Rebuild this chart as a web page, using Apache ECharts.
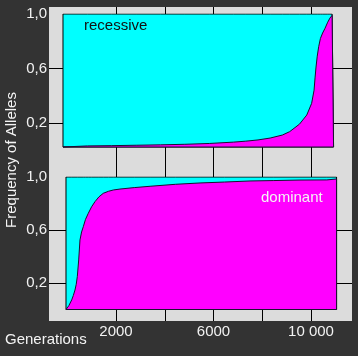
<!DOCTYPE html>
<html>
<head>
<meta charset="utf-8">
<script src="https://cdn.jsdelivr.net/npm/echarts@6/dist/echarts.min.js"></script>
<style>
html,body{margin:0;padding:0;background:#333333;}
#chart{width:358px;height:356px;}
</style>
</head>
<body>
<div id="chart"></div>
<script>
// ---- Data ----
const xTicks = [0, 2000, 4000, 6000, 8000, 10000];
const xTickLabels = [2000, 6000, 10000];
const yTickLabels = [0.2, 0.6, 1.0];

const generationsRec = [0, 1000, 2000, 3000, 4000, 5000, 6000, 7000, 7500, 8000, 8500, 9000, 9300, 9700, 10000, 10200, 10300, 10340, 10380, 10430, 10490, 10560, 10650, 10750, 10860, 10950, 11040, 11100];
const recessive = [0.03, 0.03, 0.032, 0.035, 0.038, 0.042, 0.048, 0.058, 0.065, 0.074, 0.088, 0.11, 0.135, 0.19, 0.257, 0.343, 0.44, 0.53, 0.61, 0.69, 0.76, 0.82, 0.86, 0.895, 0.94, 0.97, 0.99, 1.0];
const recBase = 0.022;

const generationsDom = [0, 120, 234, 300, 369, 420, 464, 521, 574, 640, 710, 800, 915, 1050, 1190, 1350, 1530, 1740, 1940, 2215, 2800, 3450, 4500, 5500, 6500, 7550, 8500, 9600, 10700, 10750, 11100];
const dominant = [0, 0.03, 0.072, 0.105, 0.147, 0.19, 0.248, 0.374, 0.525, 0.585, 0.625, 0.68, 0.726, 0.775, 0.814, 0.85, 0.877, 0.892, 0.902, 0.909, 0.92, 0.93, 0.945, 0.955, 0.962, 0.97, 0.973, 0.977, 0.978, 0.985, 0.985];
const domBase = 0;

// ---- Helpers ----
function boxData(gens, base) {
  const g0 = gens[0], gN = gens[gens.length - 1];
  return [[g0, base]].concat(gens.map(g => [g, 1])).concat([[gN, base], [g0, base]]);
}
function curveData(gens, vals, base) {
  const g0 = gens[0], gN = gens[gens.length - 1];
  return [[g0, base]].concat(gens.map((g, i) => [g, vals[i]])).concat([[gN, base], [g0, base]]);
}
const FONT = 'Liberation Sans, Arial, sans-serif';
const fmtY = v => v.toFixed(1).replace('.', ',');
const fmtX = v => String(v).replace(/\B(?=(\d{3})+(?!\d))/g, v >= 10000 ? ' ' : '');

function panelY(gridIndex) {
  return {
    type: 'value', gridIndex: gridIndex, min: -0.2, max: 1.0, interval: 0.4,
    axisLine: {show: false}, axisTick: {show: false},
    splitLine: {show: true, showMinLine: false, showMaxLine: false, lineStyle: {color: '#000', width: 1}},
    axisLabel: {
      show: true, showMinLabel: false, color: '#f2f2f2', fontSize: 15, fontFamily: FONT, margin: 2,
      formatter: v => (yTickLabels.some(t => Math.abs(t - v) < 1e-6) ? fmtY(v) : '')
    }
  };
}
function panelX(gridIndex, min, max) {
  return {type: 'value', gridIndex: gridIndex, min: min, max: max, show: false, splitLine: {show: false}};
}
function areaSeries(idx, data, color, base, lineColor, z) {
  return {
    type: 'line', xAxisIndex: idx, yAxisIndex: idx, data: data, symbol: 'none', silent: true,
    lineStyle: {color: lineColor, width: 1}, areaStyle: {color: color, opacity: 1, origin: base},
    z: z, animation: false
  };
}

const chart = echarts.init(document.getElementById('chart'), null, {renderer: 'canvas'});
chart.setOption({
  backgroundColor: '#333333',
  animation: false,
  grid: [
    {left: 67.25, right: 6, top: 7, bottom: 35},
    {left: 49, right: 6, top: 14, height: 163.2},
    {left: 49, right: 6, top: 177, height: 159}
  ],
  xAxis: [
    {
      type: 'value', gridIndex: 0, min: 0, max: 11682, interval: 2000,
      axisLine: {show: false}, axisTick: {show: false},
      splitLine: {show: true, showMinLine: false, showMaxLine: false, lineStyle: {color: '#000', width: 1}},
      axisLabel: {
        color: '#f2f2f2', fontSize: 15, fontFamily: FONT, margin: 3, showMaxLabel: false,
        formatter: v => (xTickLabels.indexOf(v) >= 0 ? fmtX(v) : '')
      }
    },
    panelX(1, -574, 11856),
    panelX(2, -697, 11733)
  ],
  yAxis: [
    {type: 'value', gridIndex: 0, min: 0, max: 1, show: false, splitLine: {show: false}},
    panelY(1),
    panelY(2)
  ],
  series: [
    areaSeries(1, boxData(generationsRec, recBase), '#00ffff', recBase, '#000', 3),
    areaSeries(1, curveData(generationsRec, recessive, recBase), '#ff00ff', recBase, '#1a1030', 4),
    areaSeries(2, boxData(generationsDom, domBase), '#00ffff', domBase, '#000', 3),
    areaSeries(2, curveData(generationsDom, dominant, domBase), '#ff00ff', domBase, '#1a1030', 4)
  ],
  graphic: [
    {type: 'rect', z: -10, silent: true, shape: {x: 49, y: 7, width: 303, height: 314}, style: {fill: '#dcdcdc'}},
    {type: 'text', z: 100, left: 84, top: 18, style: {text: 'recessive', fill: '#111', font: '15px ' + FONT}},
    {type: 'text', z: 100, left: 261, top: 190, style: {text: 'dominant', fill: '#f4f4f4', font: '15px ' + FONT}},
    {type: 'text', z: 100, left: 5, top: 332, style: {text: 'Generations', fill: '#f4f4f4', font: '15px ' + FONT}},
    {type: 'text', z: 100, x: 12, y: 160, rotation: Math.PI / 2,
     style: {text: 'Frequency of Alleles', fill: '#f4f4f4', font: '15px ' + FONT, align: 'center', verticalAlign: 'middle'}}
  ]
});
</script>
</body>
</html>
